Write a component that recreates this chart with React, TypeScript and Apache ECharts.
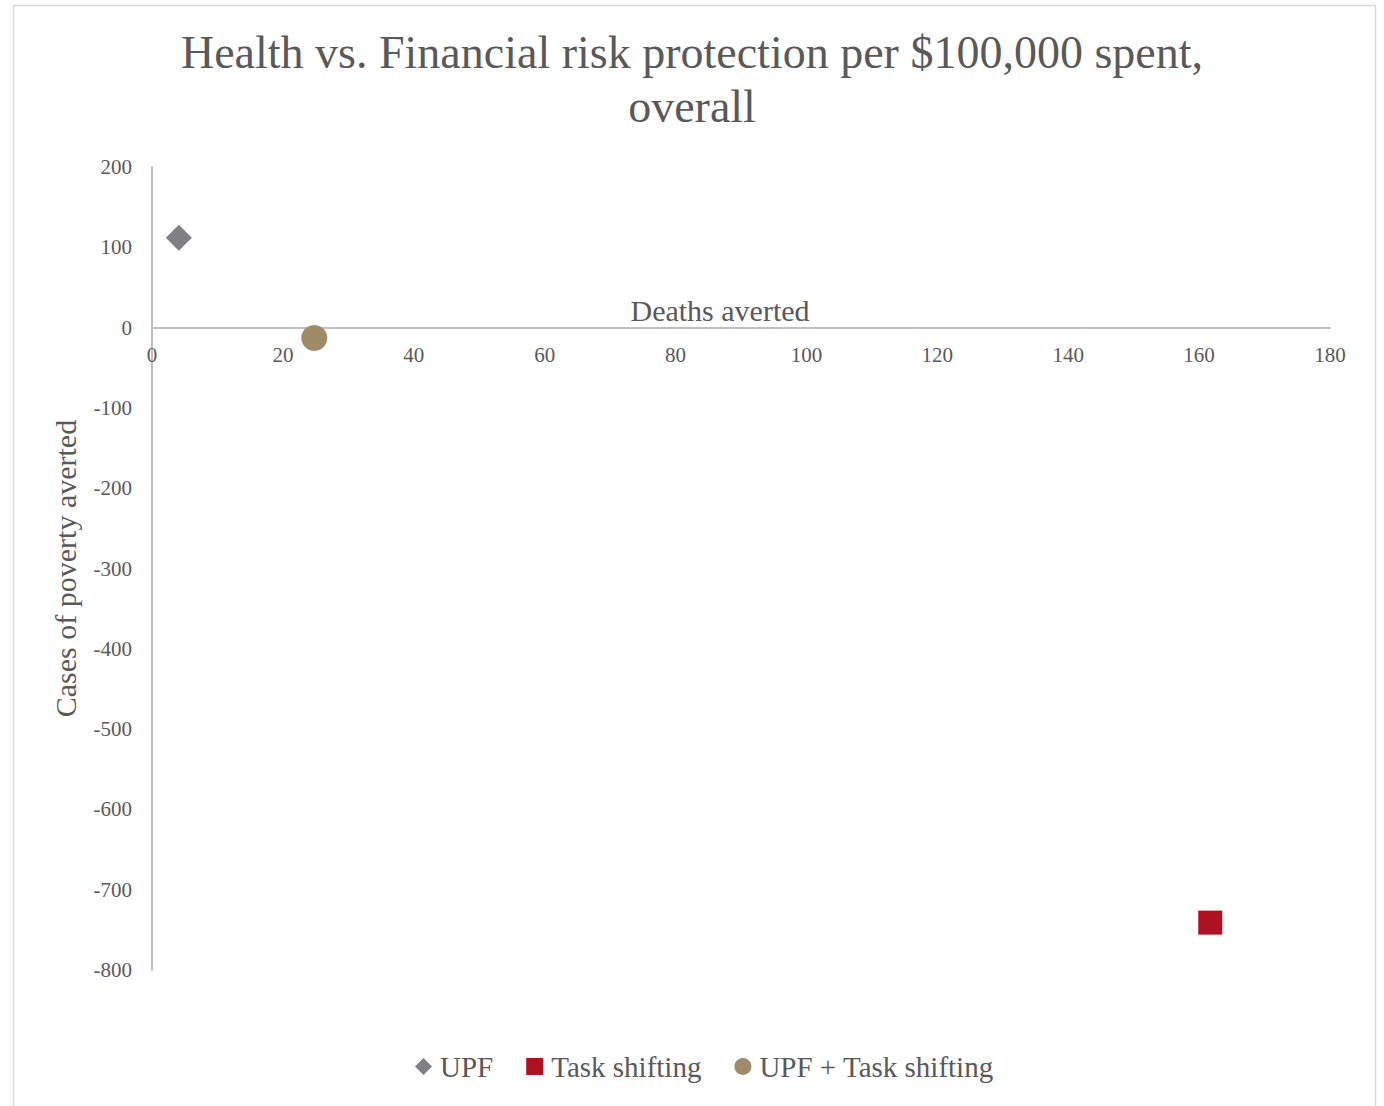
import React, { useEffect, useRef } from "react";
import * as echarts from "echarts";

const seriesNames = ["UPF", "Task shifting", "UPF + Task shifting"];
const deathsAverted = [4.1, 161.7, 24.8];
const povertyAverted = [112, -741, -13];
const symbols = ["diamond", "rect", "circle"];
const symbolSizes = [26, 24, 26];
const colors = ["#7f7f84", "#ae1121", "#a08b69"];

const titleText = "Health vs. Financial risk protection per $100,000 spent,\noverall";
const xName = "Deaths averted";
const yName = "Cases of poverty averted";

const FONT = "'Liberation Serif', 'DejaVu Serif', serif";

const Y_MIN = -800;
const Y_MAX = 200;
const GRID_TOP = 167;
const GRID_BOTTOM_PX = 970;

export default function App() {
  const ref = useRef<HTMLDivElement>(null);
  useEffect(() => {
    const chart = echarts.init(ref.current!, null, { renderer: "svg" });
    const plotH = GRID_BOTTOM_PX - GRID_TOP;
    const zeroPx = GRID_TOP + (Y_MAX / (Y_MAX - Y_MIN)) * plotH;
    chart.setOption({
      animation: false,
      backgroundColor: "#ffffff",
      textStyle: { fontFamily: FONT },
      graphic: [
        {
          type: "rect",
          shape: { x: 13.5, y: 5.5, width: 1362, height: 1120 },
          style: { fill: "none", stroke: "#d9d9d9", lineWidth: 1.5 },
          silent: true,
          z: -10,
        },
      ],
      title: {
        text: titleText,
        left: "center",
        top: 20,
        textStyle: {
          fontFamily: FONT,
          fontSize: 46,
          fontWeight: "normal",
          color: "#595959",
          lineHeight: 54,
        },
      },
      legend: {
        bottom: 20,
        left: 410,
        itemGap: 33,
        itemWidth: 17,
        itemHeight: 17,
        textStyle: { fontFamily: FONT, fontSize: 29, color: "#595959", padding: [0, 0, 0, 3] },
        data: seriesNames.map((n, i) => ({ name: n, icon: symbols[i], itemStyle: { color: colors[i], opacity: 1 } })),
      },
      grid: { left: 152, right: 54, top: GRID_TOP, bottom: 1106 - GRID_BOTTOM_PX, containLabel: false },
      xAxis: {
        type: "value",
        min: 0,
        max: 180,
        interval: 20,
        position: "bottom",
        offset: -(GRID_BOTTOM_PX - zeroPx),
        name: xName,
        nameLocation: "middle",
        nameGap: -32,
        nameMoveOverlap: false,
        nameTextStyle: { fontFamily: FONT, fontSize: 30, color: "#595959", padding: [0, 42, 0, 0] },
        axisLine: { onZero: false, lineStyle: { color: "#bfbfbf", width: 2 } },
        axisTick: { show: false },
        splitLine: { show: false },
        axisLabel: { fontFamily: FONT, fontSize: 21, color: "#595959", margin: 17 },
      },
      yAxis: {
        type: "value",
        min: Y_MIN,
        max: Y_MAX,
        interval: 100,
        name: yName,
        nameLocation: "middle",
        nameGap: 72,
        nameMoveOverlap: false,
        nameTextStyle: { fontFamily: FONT, fontSize: 30, color: "#595959" },
        axisLine: { show: true, onZero: false, lineStyle: { color: "#bfbfbf", width: 2 } },
        axisTick: { show: false },
        splitLine: { show: false },
        axisLabel: { fontFamily: FONT, fontSize: 21, color: "#595959", margin: 20 },
      },
      series: seriesNames.map((n, i) => ({
        name: n,
        type: "scatter",
        symbol: symbols[i],
        symbolSize: symbolSizes[i],
        itemStyle: { color: colors[i], opacity: 1 },
        data: [[deathsAverted[i], povertyAverted[i]]],
      })),
    });
    return () => chart.dispose();
  }, []);
  return (
    <div
      ref={ref}
      style={{ position: "absolute", left: 0, top: 0, width: 1384, height: 1106 }}
    />
  );
}
